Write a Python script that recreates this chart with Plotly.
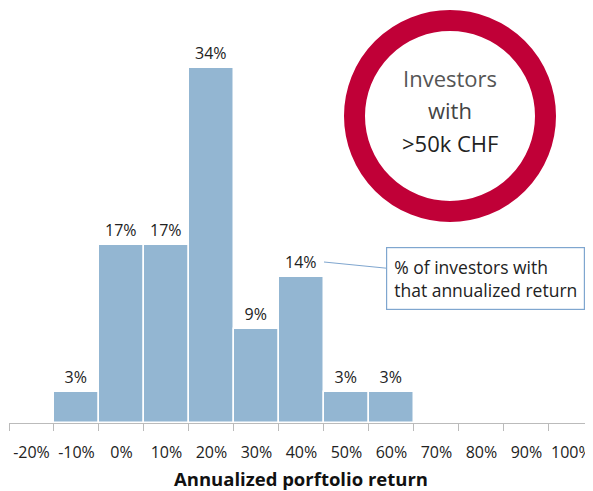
import plotly.graph_objects as go

# categories (bucket labels) and share of investors in each bucket
categories = ["-20%", "-10%", "0%", "10%", "20%", "30%", "40%", "50%",
              "60%", "70%", "80%", "90%", "100%"]
shares = [None, 3, 17, 17, 34, 9, 14, 3, 3, None, None, None, None]

FONT = "Open Sans"
OFF = 8  # page body margin of the browser
W, H = 593 - OFF, 491 - OFF
ML, MR, MT, MB = 1, 0, 0, 68
pw = W - ML - MR
ph = H - MT - MB


# helpers: page pixel position -> paper fraction (for the decorations)
def px(x):
    return (x - OFF - ML) / pw


def py(y):
    return (H - MB - (y - OFF)) / ph


fig = go.Figure()
fig.add_trace(go.Bar(
    x=categories,
    y=shares,
    marker=dict(color="#93B6D2", line=dict(color="white", width=1.5)),
    text=[f"{v}%" if v is not None else "" for v in shares],
    textposition="outside",
    textfont=dict(family=FONT, size=16, color="#222"),
    cliponaxis=False,
    hoverinfo="skip",
))

# red ring
cx, cy, r, lw = 450, 116, 95.5, 21
fig.add_shape(type="circle", xref="paper", yref="paper",
              x0=px(cx - r), x1=px(cx + r), y0=py(cy + r), y1=py(cy - r),
              line=dict(color="#C00037", width=lw), fillcolor="rgba(0,0,0,0)")

for txt, ty, col in [("Investors", 78, "#555"), ("with", 110, "#444"), (">50k CHF", 143, "#222")]:
    fig.add_annotation(x=px(cx), y=py(ty), xref="paper", yref="paper", text=txt,
                       xanchor="center", yanchor="middle", showarrow=False,
                       font=dict(family=FONT, size=22, color=col))

# callout box with leader line to the 14% label
fig.add_annotation(x=px(324), y=py(262), xref="paper", yref="paper",
                   ax=161, ay=16,
                   text="% of investors with<br>that annualized return",
                   align="left", showarrow=True, arrowhead=0, arrowwidth=1,
                   arrowcolor="#7FA6CF",
                   bordercolor="#7FA6CF", borderwidth=1.2, borderpad=7,
                   bgcolor="white",
                   font=dict(family=FONT, size=17.5, color="#222"))

fig.update_layout(
    width=W, height=H,
    margin=dict(l=ML, r=MR, t=MT, b=MB, autoexpand=False),
    plot_bgcolor="white", paper_bgcolor="white",
    bargap=0,
    showlegend=False,
    xaxis=dict(
        type="category",
        range=[-0.5, 12.48],
        tickson="boundaries",
        tickangle=0,
        ticks="outside", ticklen=7, tickcolor="#BBBBBB", tickwidth=1,
        ticklabelstandoff=15,
        showline=True, linecolor="#BBBBBB", linewidth=1,
        showgrid=False,
        tickfont=dict(family=FONT, size=16, color="#222"),
        title=dict(text="<b>Annualized porftolio return</b>",
                   font=dict(family=FONT, size=18.5, color="#111"), standoff=22),
        automargin=False,
    ),
    yaxis=dict(range=[0, 39.7], visible=False, fixedrange=True),
)

fig.write_html("out.html")
